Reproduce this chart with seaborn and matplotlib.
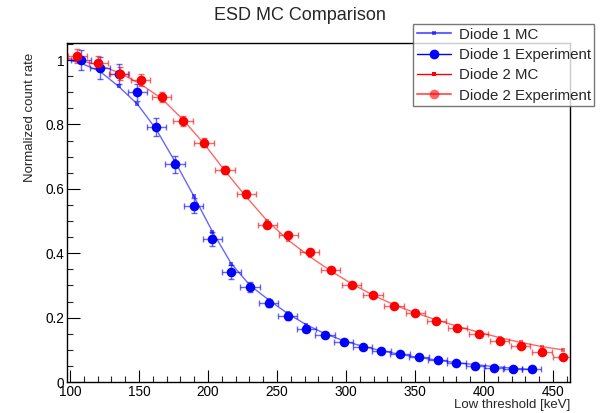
import numpy as np
import pandas as pd
import seaborn as sns
import matplotlib.pyplot as plt
from matplotlib.lines import Line2D
from matplotlib.ticker import MultipleLocator

# ---- data ----
d1_mc_x = [94.4, 108.0, 121.6, 135.2, 148.8, 162.4, 176.0, 189.6, 203.2, 216.8, 230.4, 244.0, 257.6,
           271.2, 284.8, 298.4, 312.0, 325.6, 339.2, 352.8, 366.4, 380.0, 393.6, 407.2, 420.8, 434.4]
d1_mc_y = [1.005, 0.99, 0.965, 0.918, 0.863, 0.785, 0.685, 0.578, 0.467, 0.368, 0.30, 0.255, 0.213,
           0.178, 0.15, 0.128, 0.111, 0.097, 0.086, 0.076, 0.068, 0.06, 0.054, 0.048, 0.043, 0.039]

d1_exp_x = d1_mc_x[1:]
d1_exp_y = [1.0, 0.975, 0.957, 0.90, 0.793, 0.676, 0.547, 0.445, 0.342, 0.296, 0.246, 0.205,
            0.166, 0.145, 0.123, 0.109, 0.096, 0.087, 0.077, 0.068, 0.059, 0.051, 0.045, 0.04, 0.04]
d1_exp_yerr = [0.031, 0.033, 0.03, 0.026, 0.028, 0.026, 0.023, 0.022, 0.021, 0.016, 0.012, 0.011,
               0.01, 0.009, 0.008, 0.007, 0.006, 0.006, 0.005, 0.005, 0.004, 0.004, 0.004, 0.004, 0.003]

d2_mc_x = [90.0, 105.3, 120.6, 135.9, 151.2, 166.5, 181.8, 197.1, 212.4, 227.7, 243.0, 258.3, 273.6,
           288.9, 304.2, 319.5, 334.8, 350.1, 365.4, 380.7, 396.0, 411.3, 426.6, 441.9, 457.2]
d2_mc_y = [1.01, 1.0, 0.985, 0.96, 0.925, 0.88, 0.815, 0.74, 0.655, 0.575, 0.50, 0.44, 0.39,
           0.345, 0.305, 0.27, 0.24, 0.215, 0.193, 0.173, 0.155, 0.138, 0.123, 0.11, 0.10]

d2_exp_x = d2_mc_x[1:]
d2_exp_y = [1.012, 0.992, 0.958, 0.938, 0.886, 0.81, 0.743, 0.658, 0.583, 0.488, 0.457, 0.405,
            0.348, 0.302, 0.27, 0.236, 0.215, 0.19, 0.169, 0.149, 0.127, 0.111, 0.093, 0.079]
d2_exp_yerr = [0.022, 0.02, 0.02, 0.018, 0.016, 0.015, 0.014, 0.013, 0.012, 0.011, 0.01, 0.009,
               0.008, 0.008, 0.007, 0.007, 0.006, 0.006, 0.005, 0.005, 0.005, 0.004, 0.004, 0.004]

x_err = 7.0  # horizontal bin half-width in keV

BLUE = "#0000ff"
RED = "#ff0000"

sns.set_theme(style="white")
plt.rcParams["font.family"] = ["Liberation Sans", "DejaVu Sans"]

fig = plt.figure(figsize=(6.0, 4.13), dpi=100)
ax = fig.add_axes([0.1117, 0.075, 0.8383, 0.821])

mc = pd.DataFrame({"x": d1_mc_x + d2_mc_x, "y": d1_mc_y + d2_mc_y,
                   "series": ["Diode 1 MC"] * len(d1_mc_x) + ["Diode 2 MC"] * len(d2_mc_x)})
sns.lineplot(data=mc, x="x", y="y", hue="series", palette=[BLUE, RED], sort=False,
             marker="s", markersize=2.5, markeredgewidth=0, linewidth=1.0, alpha=0.6,
             legend=False, ax=ax)

for xs, ys, yerr, col in [(d1_exp_x, d1_exp_y, d1_exp_yerr, BLUE),
                          (d2_exp_x, d2_exp_y, d2_exp_yerr, RED)]:
    ax.errorbar(xs, ys, xerr=x_err, yerr=yerr, fmt="none", ecolor=col, elinewidth=1.0,
                capsize=2, capthick=1.0, alpha=0.6, zorder=3)
    exp = pd.DataFrame({"x": xs, "y": ys})
    sns.scatterplot(data=exp, x="x", y="y", color=col, s=48, linewidth=0, zorder=4, ax=ax)

ax.set_xlim(97.8, 462.3)
ax.set_ylim(0, 1.053)
ax.xaxis.set_major_locator(MultipleLocator(50))
ax.xaxis.set_minor_locator(MultipleLocator(10))
ax.yaxis.set_major_locator(MultipleLocator(0.2))
ax.yaxis.set_minor_locator(MultipleLocator(0.05))
ax.set_yticks([0, 0.2, 0.4, 0.6, 0.8, 1.0])
ax.set_yticklabels(["0", "0.2", "0.4", "0.6", "0.8", "1"])
ax.tick_params(which="major", direction="in", length=9, width=0.8, labelsize=9.8,
               top=False, right=False, colors="black", pad=2)
ax.tick_params(which="minor", direction="in", length=4.5, width=0.8, top=False, right=False)
ax.tick_params(axis="x", which="both", bottom=True)
ax.tick_params(axis="y", which="both", left=True)
for s in ax.spines.values():
    s.set_color("black")
    s.set_linewidth(1.0)

ax.set_xlabel("Low threshold [keV]", fontsize=9.5, loc="right", labelpad=0)
ax.set_ylabel("Normalized count rate", fontsize=9.5, labelpad=8)
ax.yaxis.set_label_coords(-0.085, 0.97)
ax.yaxis.label.set_va("top")
ax.yaxis.label.set_ha("right")
fig.text(0.5, 0.963, "ESD MC Comparison", ha="center", va="center", fontsize=13)

handles = [
    Line2D([], [], color=BLUE, alpha=0.6, lw=1.5, marker="s", markersize=2.5, markeredgewidth=0),
    Line2D([], [], color=BLUE, lw=1.0, marker="o", markersize=7, markeredgewidth=0),
    Line2D([], [], color=RED, lw=1.0, marker="s", markersize=2.5, markeredgewidth=0),
    Line2D([], [], color=RED, alpha=0.6, lw=1.5, marker="o", markersize=7, markeredgewidth=0),
]
labels = ["Diode 1 MC", "Diode 1 Experiment", "Diode 2 MC", "Diode 2 Experiment"]
leg = fig.legend(handles, labels, loc="upper left", bbox_to_anchor=(0.688, 0.942),
                 fontsize=10.8, frameon=True, fancybox=False, handlelength=2.3,
                 borderpad=0.25, labelspacing=0.42, handletextpad=0.5, borderaxespad=0)
leg.get_frame().set_edgecolor("#555555")
leg.get_frame().set_linewidth(1.0)

fig.savefig("out.png", dpi=100)
